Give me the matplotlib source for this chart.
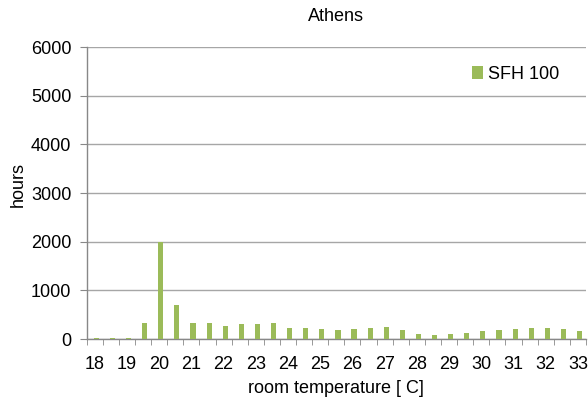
import matplotlib
matplotlib.use("Agg")
import matplotlib.pyplot as plt
import numpy as np

plt.rcParams['font.family'] = ['Liberation Sans', 'DejaVu Sans']

temps = [18, 18.5, 19, 19.5, 20, 20.5, 21, 21.5, 22, 22.5, 23, 23.5, 24, 24.5, 25,
         25.5, 26, 26.5, 27, 27.5, 28, 28.5, 29, 29.5, 30, 30.5, 31, 31.5, 32, 32.5, 33]
hours = [20, 20, 20, 320, 2000, 700, 320, 320, 260, 300, 300, 333, 218, 218, 197,
         177, 197, 218, 238, 177, 109, 82, 109, 122, 156, 177, 197, 218, 218, 197, 156]
series_name = "SFH 100"
title = "Athens"
xlabel = "room temperature [ C]"
ylabel = "hours"
yticks = [0, 1000, 2000, 3000, 4000, 5000, 6000]

FS = 13

fig = plt.figure(figsize=(5.88, 3.98), dpi=100)
ax = fig.add_axes([0.1474, 0.1482, 0.9966 - 0.1474, 0.8819 - 0.1482])

idx = np.arange(len(temps))
ax.bar(idx + 0.1, hours, width=0.32, color='#9BBB59', label=series_name, zorder=3)

ax.set_xlim(-0.5, len(temps) - 0.5)
ax.set_ylim(0, 6000)
ax.set_yticks(yticks)
ax.set_yticklabels([str(v) for v in yticks], fontsize=FS)
ax.yaxis.grid(True, color='#a6a6a6', linewidth=1.0, zorder=0)

major = idx[::2]
ax.set_xticks(major)
ax.set_xticklabels([f"{temps[i]:g}" for i in major], fontsize=FS)
ax.set_xticks(np.arange(-0.5, len(temps), 1.0), minor=True)
ax.tick_params(axis='x', which='major', length=0, pad=12)
ax.tick_params(axis='x', which='minor', length=4, color='#888888', direction='out')
ax.tick_params(axis='y', length=5, color='#888888', direction='out', pad=6)

for s in ['top', 'right']:
    ax.spines[s].set_visible(False)
for s in ['left', 'bottom']:
    ax.spines[s].set_color('#888888')
    ax.spines[s].set_linewidth(1.0)

ax.set_title(title, fontsize=FS, pad=19)
ax.set_xlabel(xlabel, fontsize=FS, labelpad=5)
ax.set_ylabel(ylabel, fontsize=FS)
ax.yaxis.set_label_coords(-0.12, 0.53)

leg = ax.legend(loc='upper left', bbox_to_anchor=(0.772, 0.935), frameon=False,
                fontsize=FS, handlelength=0.6, handleheight=0.7, handletextpad=0.25,
                borderaxespad=0, borderpad=0)

fig.savefig("out.png", dpi=100)
